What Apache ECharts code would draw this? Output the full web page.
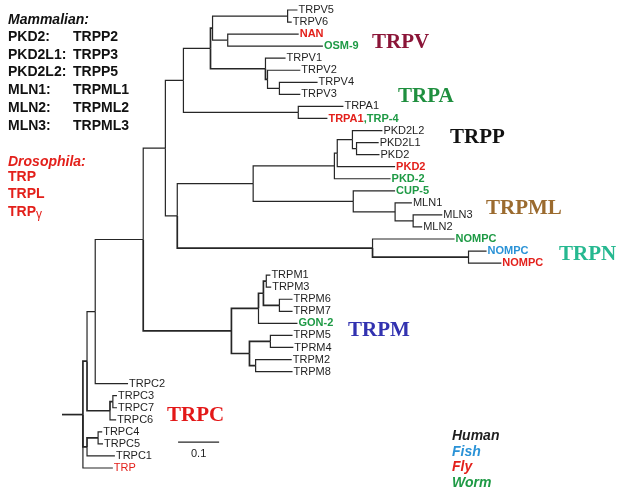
<!DOCTYPE html>
<html>
<head>
<meta charset="utf-8">
<script src="https://cdn.jsdelivr.net/npm/echarts/dist/echarts.min.js"></script>
<style>
  html, body { margin: 0; padding: 0; background: #fff; }
  #main { width: 624px; height: 493px; }
</style>
</head>
<body>
<div id="main"></div>
<script>
// leaves, top to bottom (row order of the tree)
const taxa = ['TRPV5', 'TRPV6', 'NAN', 'OSM-9', 'TRPV1', 'TRPV2', 'TRPV4', 'TRPV3',
  'TRPA1', 'TRPA1,TRP-4', 'PKD2L2', 'PKD2L1', 'PKD2', 'PKD2', 'PKD-2', 'CUP-5',
  'MLN1', 'MLN3', 'MLN2', 'NOMPC', 'NOMPC', 'NOMPC', 'TRPM1', 'TRPM3', 'TRPM6',
  'TRPM7', 'GON-2', 'TRPM5', 'TPRM4', 'TRPM2', 'TRPM8', 'TRPC2', 'TRPC3', 'TRPC7',
  'TRPC6', 'TRPC4', 'TRPC5', 'TRPC1', 'TRP'];
const taxonSpecies = ['human', 'human', 'fly', 'worm', 'human', 'human', 'human', 'human',
  'human', 'flyworm', 'human', 'human', 'human', 'fly', 'worm', 'worm',
  'human', 'human', 'human', 'worm', 'fish', 'fly', 'human', 'human', 'human',
  'human', 'worm', 'human', 'human', 'human', 'human', 'human', 'human', 'human',
  'human', 'human', 'human', 'human', 'fly'];
const taxonParent = ['V56', 'V56', 'NANOSM', 'NANOSM', 'V1234', 'V234', 'V43', 'V43',
  'A', 'A', 'PH', 'PH2', 'PH2', 'PHF', 'P', 'ML',
  'MLN', 'MLN32', 'MLN32', 'N', 'NF', 'NF', 'M13', 'M13', 'M67',
  'M67', 'MA', 'M54', 'M54', 'M28', 'M28', 'N2', 'C37', 'C37',
  'C367', 'C45', 'C45', 'C451', 'root'];
const taxonLength = [0.024, 0.010, 0.173, 0.232, 0.049, 0.080, 0.093, 0.051,
  0.110, 0.071, 0.073, 0.054, 0.056, 0.141, 0.137, 0.102,
  0.041, 0.071, 0.022, 0.200, 0.044, 0.080, 0.010, 0.012, 0.032,
  0.032, 0.095, 0.054, 0.056, 0.088, 0.090, 0.080, 0.010, 0.010,
  0.015, 0.010, 0.012, 0.068, 0.073];

// internal nodes
const nodes = ['root', 'N1', 'N2', 'N3', 'N4', 'VA', 'V', 'V56NAN', 'V56', 'NANOSM',
  'V1234', 'V234', 'V43', 'A', 'N5', 'PM', 'P', 'PHF', 'PH', 'PH2', 'ML', 'MLN', 'MLN32',
  'N', 'NF', 'M', 'MA', 'AB', 'M13', 'M67', 'MB', 'M54', 'M28', 'C367', 'C37', 'C451', 'C45'];
const nodeParent = [null, 'root', 'N1', 'N2', 'N3', 'N4', 'VA', 'V', 'V56NAN', 'V56NAN',
  'V', 'V1234', 'V234', 'VA', 'N4', 'N5', 'PM', 'P', 'PHF', 'PH', 'PM', 'ML', 'MLN',
  'N5', 'N', 'N3', 'M', 'MA', 'AB', 'AB', 'M', 'MB', 'MB', 'N1', 'C367', 'root', 'C451'];
const nodeLength = [0.051, 0.010, 0.020, 0.117, 0.054, 0.044, 0.066, 0.005, 0.183, 0.037,
  0.134, 0.005, 0.029, 0.280, 0.029, 0.185, 0.198, 0.007, 0.037, 0.010, 0.244, 0.102, 0.044,
  0.476, 0.234, 0.215, 0.066, 0.012, 0.007, 0.039, 0.044, 0.051, 0.015, 0.056, 0.007, 0.010, 0.027];

// scale bar: start x, row, length
const scaleBar = [0.283, 35.85, 0.1];

const cladeNames = ['TRPV', 'TRPA', 'TRPP', 'TRPML', 'TRPN', 'TRPM', 'TRPC'];
const legendNames = ['Human', 'Fish', 'Fly', 'Worm'];
const aliasFrom = ['PKD2:', 'PKD2L1:', 'PKD2L2:', 'MLN1:', 'MLN2:', 'MLN3:'];
const aliasTo = ['TRPP2', 'TRPP3', 'TRPP5', 'TRPML1', 'TRPML2', 'TRPML3'];
const flyNames = ['TRP', 'TRPL', 'TRP{g|γ}'];

// ---- styles
const speciesColor = { human: '#1f1f1f', fish: '#2a92d6', fly: '#e3201b', worm: '#1e9a45' };
const heavyBranches = ['root', 'C451', 'C45', 'C367', 'C37', 'M', 'MA', 'AB', 'M13', 'M67',
  'MB', 'M54', 'M28', 'N', 'NF', 'V1234', 'V234', 'V56NAN', 'N1'];
const cladePos = [[372, 43], [398, 97], [450, 138], [486, 209], [559, 255], [348, 331], [167, 416]];
const cladeColor = ['#8b1538', '#1f8f3f', '#111111', '#9b6b2f', '#26b890', '#3232b0', '#e31818'];
const SANS = '"Liberation Sans", Arial, sans-serif';

// ---- build tree geometry
const info = {};
nodes.forEach((id, i) => { info[id] = { parent: nodeParent[i], len: nodeLength[i], kids: [] }; });
taxa.forEach((t, i) => { info['t' + i] = { parent: taxonParent[i], len: taxonLength[i], kids: [], y: i }; });
Object.keys(info).forEach(id => { const p = info[id].parent; if (p) info[p].kids.push(id); });

function depth(id) {
  const n = info[id];
  if (n.x === undefined) n.x = (n.parent ? depth(n.parent) : 0) + n.len;
  return n.x;
}
function row(id) {
  const n = info[id];
  if (n.y === undefined) {
    const ys = n.kids.map(row);
    n.y = (Math.min(...ys) + Math.max(...ys)) / 2;
  }
  return n.y;
}
Object.keys(info).forEach(id => { depth(id); row(id); });

const branchData = Object.keys(info).map(id => {
  const n = info[id];
  const p = n.parent ? info[n.parent] : { x: 0, y: n.y };
  return [p.x, p.y, n.x, n.y, heavyBranches.indexOf(id) >= 0 ? 1 : 0];
});
const labelData = taxa.map((t, i) => [info['t' + i].x, i, i]);

const chart = echarts.init(document.getElementById('main'));

const graphics = [];
function addText(x, y, text, font, fill, rich) {
  graphics.push({
    type: 'text', x: x, y: y, silent: true,
    style: { text: text, font: font, fill: fill, verticalAlign: 'middle', textVerticalAlign: 'middle', rich: rich }
  });
}
addText(8, 20, 'Mammalian:', 'italic bold 14px ' + SANS, '#111');
aliasFrom.forEach((a, i) => {
  addText(8, 37 + i * 17.8, a, 'bold 14px ' + SANS, '#111');
  addText(73, 37 + i * 17.8, aliasTo[i], 'bold 14px ' + SANS, '#111');
});
addText(8, 162, 'Drosophila:', 'italic bold 14px ' + SANS, speciesColor.fly);
flyNames.forEach((f, i) => {
  addText(8, 177 + i * 17.5, f, 'bold 14px ' + SANS, speciesColor.fly,
    { g: { font: '12px ' + SANS, fill: speciesColor.fly, padding: [5, 0, 0, 0] } });
});
cladeNames.forEach((c, i) => {
  addText(cladePos[i][0], cladePos[i][1], c, 'bold 21px "Liberation Serif", "Times New Roman", serif', cladeColor[i]);
});
const legendColors = [speciesColor.human, speciesColor.fish, speciesColor.fly, speciesColor.worm];
legendNames.forEach((l, i) => {
  addText(452, 436 + i * 15.7, l, 'italic bold 14px ' + SANS, legendColors[i]);
});

chart.setOption({
  animation: false,
  grid: { left: 62, right: 0, top: 10, bottom: 25 },
  xAxis: { type: 'value', min: 0, max: 1.37, show: false },
  yAxis: { type: 'value', min: 0, max: 38, inverse: true, show: false },
  graphic: graphics,
  series: [
    {
      type: 'custom',
      data: branchData,
      encode: { x: [0, 2], y: [1, 3] },
      silent: true,
      renderItem: function (params, api) {
        const p0 = api.coord([api.value(0), api.value(1)]);
        const p1 = api.coord([api.value(0), api.value(3)]);
        const p2 = api.coord([api.value(2), api.value(3)]);
        return {
          type: 'polyline',
          shape: { points: [p0, p1, p2] },
          style: { stroke: '#262626', lineWidth: api.value(4) ? 1.7 : 1.2, fill: null }
        };
      }
    },
    {
      type: 'custom',
      data: labelData,
      encode: { x: 0, y: 1 },
      silent: true,
      renderItem: function (params, api) {
        const i = api.value(2);
        const p = api.coord([api.value(0), api.value(1)]);
        const sp = taxonSpecies[i];
        const bold = sp !== 'human' && i !== taxa.length - 1;
        let text = taxa[i];
        let rich;
        if (sp === 'flyworm') {
          const parts = taxa[i].split(',');
          text = '{r|' + parts[0] + '}{g|,' + parts[1] + '}';
          rich = {
            r: { fill: speciesColor.fly, font: 'bold 11px ' + SANS },
            g: { fill: speciesColor.worm, font: 'bold 11px ' + SANS }
          };
        }
        return {
          type: 'text',
          x: p[0] + 1,
          y: p[1],
          style: {
            text: text,
            rich: rich,
            font: (bold ? 'bold ' : '') + '11px ' + SANS,
            fill: speciesColor[sp] || '#1f1f1f',
            verticalAlign: 'middle',
            textVerticalAlign: 'middle'
          }
        };
      }
    },
    {
      type: 'custom',
      data: [scaleBar],
      encode: { x: 0, y: 1 },
      silent: true,
      renderItem: function (params, api) {
        const a = api.coord([api.value(0), api.value(1)]);
        const b = api.coord([api.value(0) + api.value(2), api.value(1)]);
        return {
          type: 'group',
          children: [
            { type: 'line', shape: { x1: a[0], y1: a[1], x2: b[0], y2: b[1] }, style: { stroke: '#262626', lineWidth: 1.2 } },
            {
              type: 'text', x: (a[0] + b[0]) / 2, y: a[1] + 12,
              style: { text: String(api.value(2)), font: '11px ' + SANS, fill: '#222', align: 'center', textAlign: 'center', verticalAlign: 'middle', textVerticalAlign: 'middle' }
            }
          ]
        };
      }
    }
  ]
});
</script>
</body>
</html>
